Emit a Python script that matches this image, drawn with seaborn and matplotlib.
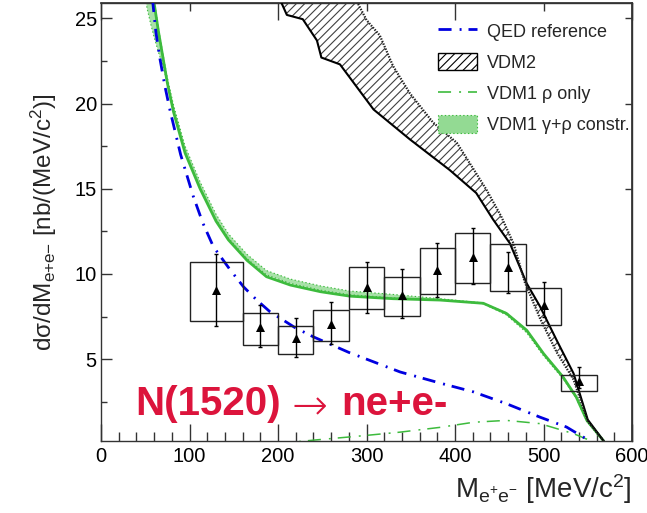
import matplotlib
matplotlib.use("Agg")
import matplotlib.pyplot as plt
from matplotlib.patches import Rectangle, Patch
from matplotlib.lines import Line2D
from matplotlib.ticker import MultipleLocator, NullFormatter
import seaborn as sns

# ---- measured spectrum (bins, centres, values, stat. and syst. ranges) ----
bin_lo = [100, 160, 200, 240, 280, 320, 360, 400, 440, 480, 520]
bin_hi = [160, 200, 240, 280, 320, 360, 400, 440, 480, 520, 560]
mass = [130, 180, 220, 260, 300, 340, 380, 420, 460, 500, 540]
xsec = [9.06, 6.90, 6.27, 7.06, 9.25, 8.76, 10.24, 11.02, 10.43, 8.18, 3.71]
stat_lo = [6.94, 5.73, 5.14, 5.92, 7.73, 7.39, 8.67, 9.41, 8.90, 7.49, 3.33]
stat_hi = [11.20, 8.18, 7.39, 8.37, 10.72, 10.27, 11.80, 12.69, 11.30, 9.55, 4.55]
sys_lo = [7.24, 5.86, 5.29, 6.06, 7.92, 7.53, 8.82, 9.49, 9.02, 7.00, 3.12]
sys_hi = [10.72, 7.69, 6.94, 7.88, 10.39, 9.84, 11.51, 12.39, 11.76, 9.16, 4.10]

# ---- QED reference ----
qed_m = [52, 58.4, 62, 66.7, 72.3, 78, 90, 104, 115, 127, 146, 161, 176, 191,
         206, 219, 240, 280, 338, 383, 421, 458, 496, 526, 551]
qed_v = [29.0, 26.0, 24.2, 22.6, 21.0, 19.6, 17.0, 14.6, 13.0, 11.6, 10.24, 9.25,
         8.47, 7.78, 7.29, 6.86, 6.31, 5.40, 4.25, 3.60, 3.08, 2.39, 1.60, 1.02, 0.24]

# ---- VDM1 gamma+rho constrained: central line and band ----
vdm1_m = [48, 52, 56, 60, 65, 70, 75, 82, 95, 112, 130, 144, 165, 187, 214, 248,
          281, 330, 383, 432, 458, 481, 500, 522, 537, 549, 568]
vdm1_v = [31.0, 29.5, 27.7, 25.9, 24.2, 22.7, 21.2, 19.5, 17.1, 15.0, 13.1, 12.0,
          10.8, 9.84, 9.35, 8.96, 8.70, 8.55, 8.47, 8.28, 7.69, 6.70, 5.33, 3.96,
          2.78, 1.41, 0.20]
vdm1_lo = [27.0, 25.6, 24.7, 23.9, 23.0, 22.2, 21.2, 19.5, 17.15, 15.1, 13.2, 12.1,
           10.9, 9.95, 9.45, 9.05, 8.78, 8.60, 8.48, 8.25, 7.60, 6.55, 5.20, 3.85,
           2.70, 1.35, 0.20]
vdm1_hi = [31.2, 29.7, 27.9, 26.1, 24.4, 22.9, 21.5, 19.9, 17.5, 15.4, 13.5, 12.35,
           11.15, 10.2, 9.7, 9.3, 9.0, 8.8, 8.55, 8.3, 7.72, 6.72, 5.35, 3.98,
           2.80, 1.43, 0.20]

# ---- VDM1 rho only ----
rho_m = [200, 240, 290, 338, 383, 421, 458, 496, 534, 553, 560]
rho_v = [0.05, 0.25, 0.48, 0.72, 1.00, 1.30, 1.41, 1.22, 0.63, 0.22, 0.05]

# ---- VDM2 band: lower (solid) and upper (dotted) edges ----
vdm2_lo_m = [195, 204, 210, 228, 244, 249, 270, 308, 349, 394, 424, 443, 462,
             481, 496, 515, 534, 550, 568]
vdm2_lo_v = [27.2, 25.9, 25.2, 24.95, 23.7, 22.7, 22.3, 19.65, 17.9, 16.1, 14.75,
             13.2, 11.8, 9.45, 8.1, 6.1, 4.16, 1.45, 0.2]
vdm2_hi_m = [280, 289, 300, 315, 330, 349, 375, 402, 424, 436, 452, 466, 479,
             496, 515, 534, 550, 568]
vdm2_hi_v = [27.0, 26.0, 24.9, 24.0, 22.2, 20.6, 18.9, 17.7, 15.9, 14.9, 13.4,
             11.8, 9.5, 7.4, 5.4, 3.8, 1.35, 0.2]

legend_labels = ["QED reference", "VDM2", "VDM1 \u03c1 only", "VDM1 \u03b3+\u03c1 constr."]

BLUE = "#0000e0"
GREEN = "#3dbb3d"
LIGHT_GREEN = "#93da93"
CRIMSON = "#dc143c"
DASHDOT = (0, (9.4, 5.8, 1.4, 5.0))

sns.set_theme(style="ticks")
plt.rcParams["font.family"] = ["Liberation Sans", "DejaVu Sans"]
plt.rcParams["mathtext.fontset"] = "custom"
plt.rcParams["mathtext.rm"] = "Liberation Sans"
plt.rcParams["mathtext.it"] = "Liberation Sans:italic"
plt.rcParams["mathtext.bf"] = "Liberation Sans:bold"
plt.rcParams["lines.scale_dashes"] = False
plt.rcParams["hatch.linewidth"] = 0.8

fig = plt.figure(figsize=(6.47, 5.13), dpi=100)
ax = fig.add_axes([101 / 647, 1 - 441 / 513, 531 / 647, 438 / 513])


def curve(x, y, **kw):
    sns.lineplot(x=x, y=y, ax=ax, sort=False, estimator=None, legend=False, **kw)
    return ax.lines[-1]


# VDM1 band with dotted borders
ax.fill_between(vdm1_m, vdm1_lo, vdm1_hi, color=LIGHT_GREEN, alpha=0.8, lw=0, zorder=1)
for edge in (vdm1_lo, vdm1_hi):
    curve(vdm1_m, edge, color=GREEN, linewidth=0.8, zorder=2).set_linestyle(":")
curve(vdm1_m, vdm1_v, color=GREEN, linewidth=2.0, zorder=2.5)

# VDM1 rho only
curve(rho_m, rho_v, color=GREEN, linewidth=1.1, zorder=2.5).set_linestyle(DASHDOT)

# VDM2 hatched band
ax.fill(vdm2_lo_m + vdm2_hi_m[::-1], vdm2_lo_v + vdm2_hi_v[::-1],
        facecolor="none", edgecolor="#404040", hatch="////", lw=0, zorder=2)
curve(vdm2_lo_m, vdm2_lo_v, color="black", linewidth=1.5, zorder=3)
curve(vdm2_hi_m, vdm2_hi_v, color="#202020", linewidth=1.6, zorder=3).set_linestyle((0, (1.0, 1.0)))

# QED reference
curve(qed_m, qed_v, color=BLUE, linewidth=2.0, zorder=4).set_linestyle(DASHDOT)

# data: systematic boxes, statistical bars and markers
for lo, hi, ylo, yhi in zip(bin_lo, bin_hi, sys_lo, sys_hi):
    ax.add_patch(Rectangle((lo, ylo), hi - lo, yhi - ylo, facecolor="none",
                           edgecolor="#222222", lw=1.0, zorder=5))
err = [[v - l for v, l in zip(xsec, stat_lo)], [h - v for v, h in zip(xsec, stat_hi)]]
ax.errorbar(mass, xsec, yerr=err, fmt="none", ecolor="black", elinewidth=1.0,
            capsize=1.2, capthick=1.0, zorder=6)
sns.scatterplot(x=mass, y=xsec, ax=ax, marker="^", s=42, color="black",
                edgecolor="black", linewidth=0, zorder=7, legend=False)

# axes
ax.set_xlim(0, 600)
ax.set_ylim(0.2, 25.9)
ax.xaxis.set_major_locator(MultipleLocator(100))
ax.xaxis.set_minor_locator(MultipleLocator(20))
ax.yaxis.set_major_locator(MultipleLocator(5))
ax.yaxis.set_minor_locator(MultipleLocator(2.5))
ax.tick_params(axis="x", which="major", direction="in", length=12, width=1.0,
               color="#333333", labelsize=14.5, pad=4, labelcolor="black")
ax.tick_params(axis="x", which="minor", direction="in", length=6.5, width=1.0, color="#333333")
ax.tick_params(axis="y", which="major", direction="in", length=8, width=1.0,
               color="#333333", labelsize=14.5, pad=3, labelcolor="black")
ax.tick_params(axis="y", which="minor", direction="in", length=4, width=1.0, color="#333333")
for s in ax.spines.values():
    s.set_color("#333333")
    s.set_linewidth(1.0)
    s.set_visible(True)

top = ax.secondary_xaxis("top")
top.xaxis.set_major_locator(MultipleLocator(200))
top.xaxis.set_minor_locator(MultipleLocator(100))
top.tick_params(which="major", direction="in", length=12, width=1.0, color="#333333", labeltop=False)
top.tick_params(which="minor", direction="in", length=6, width=1.0, color="#333333")
top.xaxis.set_major_formatter(NullFormatter())
top.spines["top"].set_color("#333333")

right = ax.secondary_yaxis("right")
right.yaxis.set_major_locator(MultipleLocator(5))
right.yaxis.set_minor_locator(MultipleLocator(100))
right.tick_params(which="major", direction="in", length=5, width=1.0, color="#333333", labelright=False)
right.yaxis.set_major_formatter(NullFormatter())
right.spines["right"].set_color("#333333")

ax.set_xlabel(r"M$_{\mathrm{e^{+}e^{-}}}$ [MeV/c$^{2}$]", fontsize=20)
ax.xaxis.set_label_coords(1.0, -(498 - 441) / 438)
ax.xaxis.label.set_ha("right")
ax.xaxis.label.set_va("baseline")
ax.set_ylabel("d\u03c3/dM$_{\\mathrm{e{+}e{-}}}$ [nb/(MeV/c$^{2}$)]", fontsize=17.5)
ax.yaxis.set_label_coords(-(101 - 52) / 531, 0.5)
ax.yaxis.label.set_va("baseline")

# reaction label
fig.text(135 / 647, 1 - 415 / 513, "N(1520)", color=CRIMSON, fontsize=29,
         fontweight="bold", va="baseline", ha="left")
fig.text(292 / 647, 1 - 419 / 513, "\u2192", color=CRIMSON, fontsize=31,
         family="DejaVu Sans", fontweight="light", va="baseline", ha="left")
fig.text(341 / 647, 1 - 415 / 513, "ne+e-", color=CRIMSON, fontsize=29,
         fontweight="bold", va="baseline", ha="left")

# legend
handles = [
    Line2D([], [], color=BLUE, lw=2.0, linestyle=DASHDOT),
    Patch(facecolor="white", edgecolor="black", hatch="////", lw=1.0),
    Line2D([], [], color=GREEN, lw=1.2, linestyle=DASHDOT),
    Patch(facecolor=LIGHT_GREEN, edgecolor=GREEN, linestyle=":", lw=0.8),
]
ax.legend(handles, legend_labels, loc="upper left", bbox_to_anchor=(438 / 647, 1 - 22 / 513),
          bbox_transform=fig.transFigure, frameon=False, fontsize=13, borderpad=0,
          borderaxespad=0, handlelength=2.16, handleheight=1.1, handletextpad=0.55,
          labelspacing=0.68)

fig.savefig("out.png", dpi=100)
